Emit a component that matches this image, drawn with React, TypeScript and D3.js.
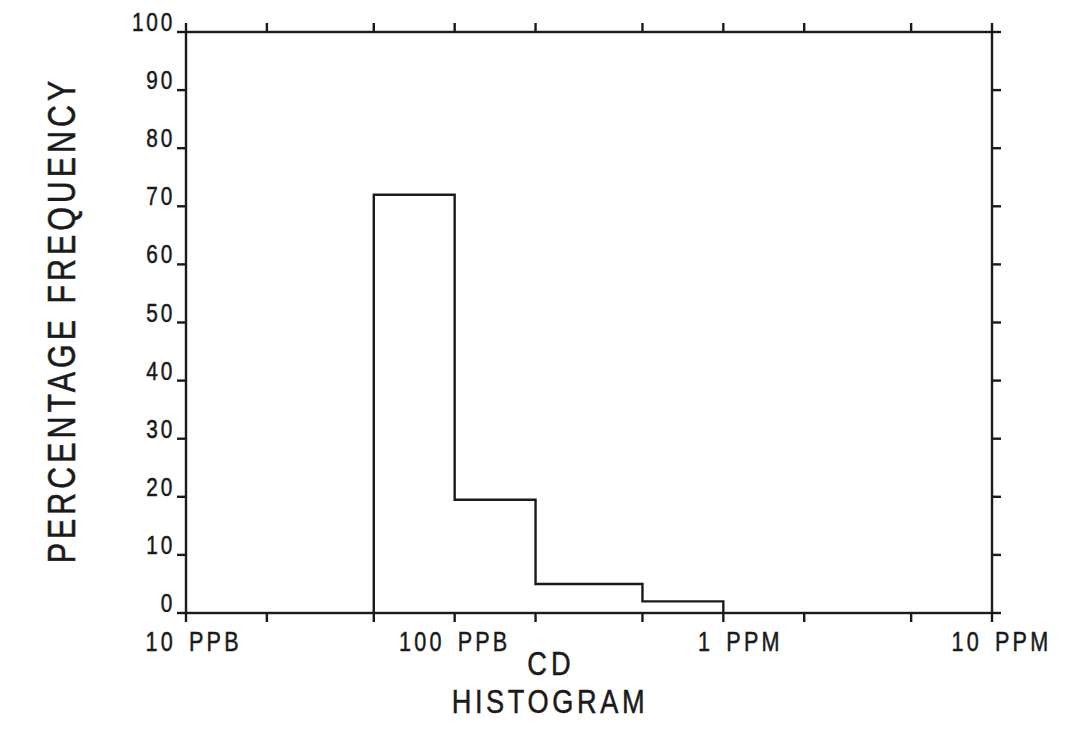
import React, { useEffect, useRef } from 'react';
import * as d3 from 'd3';

// Bin edges (PPB) and percentage frequency for each bin
const binEdges = [50, 100, 200, 500, 1000];
const binPercents = [72, 19.5, 5, 2];

// Tick positions on the concentration axis (PPB)
const xTicks = [10, 20, 50, 100, 200, 500, 1000, 2000, 5000, 10000];
const xLabels = [
  { value: 10, num: '10', unit: 'PPB' },
  { value: 100, num: '100', unit: 'PPB' },
  { value: 1000, num: '1', unit: 'PPM' },
  { value: 10000, num: '10', unit: 'PPM' }
];
const yTicks = [0, 10, 20, 30, 40, 50, 60, 70, 80, 90, 100];

function App() {
  const chartRef = useRef<SVGSVGElement | null>(null);

  useEffect(() => {
    const width = 1078;
    const height = 739;
    const left = 186;
    const right = 992;
    const top = 32;
    const bottom = 613;
    const tickLen = 9;
    const ink = '#1a1a1a';
    const font = '"Liberation Sans", Arial, sans-serif';
    const squeeze = 0.8; // plotter lettering is narrower than Liberation

    const svg = d3.select(chartRef.current);
    svg.selectAll('*').remove();
    svg.attr('width', width).attr('height', height);

    const x = d3.scaleLog().domain([10, 10000]).range([left, right]);
    const y = d3.scaleLinear().domain([0, 100]).range([bottom, top]);

    // draws narrow lettering at (tx, ty), optional rotation
    const label = (tx: number, ty: number, txt: string, size: number, spacing: number, anchor: string, rot = 0) => {
      svg.append('text')
        .attr('transform', `translate(${tx},${ty}) rotate(${rot}) scale(${squeeze},1)`)
        .attr('text-anchor', anchor)
        .style('font-family', font)
        .style('font-size', `${size}px`)
        .style('letter-spacing', `${spacing}px`)
        .attr('fill', ink)
        .attr('stroke', ink)
        .attr('stroke-width', 0.5)
        .text(txt);
    };

    // Frame
    svg.append('rect')
      .attr('x', left)
      .attr('y', top)
      .attr('width', right - left)
      .attr('height', bottom - top)
      .attr('fill', 'none')
      .attr('stroke', ink)
      .attr('stroke-width', 2.4);

    // Outward ticks on all four sides
    const g = svg.append('g').attr('stroke', ink).attr('stroke-width', 2.4);
    xTicks.forEach(t => {
      g.append('line').attr('x1', x(t)).attr('x2', x(t)).attr('y1', bottom).attr('y2', bottom + tickLen);
      g.append('line').attr('x1', x(t)).attr('x2', x(t)).attr('y1', top).attr('y2', top - tickLen);
    });
    yTicks.forEach(t => {
      g.append('line').attr('x1', left).attr('x2', left - tickLen).attr('y1', y(t)).attr('y2', y(t));
      g.append('line').attr('x1', right).attr('x2', right + tickLen).attr('y1', y(t)).attr('y2', y(t));
    });

    // Histogram outline
    const pts: [number, number][] = [[binEdges[0], 0]];
    binPercents.forEach((p, i) => {
      pts.push([binEdges[i], p]);
      pts.push([binEdges[i + 1], p]);
    });
    pts.push([binEdges[binEdges.length - 1], 0]);
    const line = d3.line<[number, number]>().x(d => x(d[0])).y(d => y(d[1]));
    svg.append('path')
      .attr('d', line(pts))
      .attr('fill', 'none')
      .attr('stroke', ink)
      .attr('stroke-width', 2.4);

    // Y tick labels
    yTicks.forEach(t => label(left - 11, y(t) - 1, String(t), 26, 3.5, 'end'));

    // X tick labels: number left of the tick, unit right of it
    xLabels.forEach(l => {
      label(x(l.value) - 10, 651, l.num, 27, 4, 'end');
      label(x(l.value) + 3, 651, l.unit, 27, 4, 'start');
    });

    // Titles
    label(551, 675, 'CD', 34, 5, 'middle');
    label(550, 713, 'HISTOGRAM', 34, 4.5, 'middle');
    label(75, 320, 'PERCENTAGE FREQUENCY', 38, 5, 'middle', -90);
  }, []);

  return (
    <div style={{ position: 'absolute', left: 0, top: 0, background: '#fff' }}>
      <svg ref={chartRef} style={{ display: 'block' }}></svg>
    </div>
  );
}

export default App;
